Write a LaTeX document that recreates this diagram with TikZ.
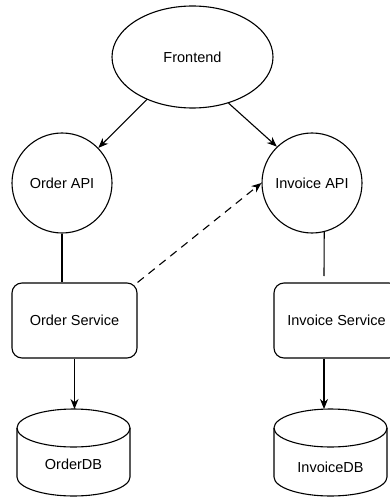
\documentclass[tikz,border=0pt]{standalone}
\usepackage{fontspec}
\setmainfont{Liberation Sans}
\usetikzlibrary{shapes.geometric,arrows.meta}
\begin{document}
\begin{tikzpicture}[x=1pt,y=-1pt,
  every node/.style={font=\fontsize{14.5}{17}\selectfont},
  shp/.style={draw, line width=1.1pt, inner sep=0pt, align=center},
  ell/.style={shp, ellipse, minimum width=161pt, minimum height=102pt},
  circ/.style={shp, circle, minimum size=100pt},
  svc/.style={shp, rectangle, rounded corners=10pt, minimum width=125pt, minimum height=75pt},
  conn/.style={line width=1.1pt},
  arr/.style={conn, -{Stealth[length=10pt,width=8pt]}},
  dep/.style={arr, dash pattern=on 8pt off 6pt},
  db/.style={line width=1.1pt}
]
\useasboundingbox (0,0) rectangle (390,497);
\clip (0,0) rectangle (390,497);

\node[ell] (fe) at (192.5,57) {Frontend};
\node[circ] (oa) at (62,183) {Order API};
\node[circ] (ia) at (312,183) {Invoice API};
\node[svc] (os) at (74.5,320.5) {Order Service};
\node[svc] (is) at (336.5,320.5) {Invoice Service};

% OrderDB cylinder
\draw[db] (17,428) -- (17,477) arc[start angle=180, end angle=360, x radius=56.5pt, y radius=19pt] -- (130,428);
\draw[db] (73.5,428) ellipse [x radius=56.5pt, y radius=19pt];
\node (odb) at (73.5,464) {OrderDB};
\coordinate (odbtop) at (73.5,409);

% InvoiceDB cylinder
\draw[db] (274,428) -- (274,477) arc[start angle=180, end angle=360, x radius=56.5pt, y radius=19pt] -- (387,428);
\draw[db] (330.5,428) ellipse [x radius=56.5pt, y radius=19pt];
\node (idb) at (330.5,467) {InvoiceDB};
\coordinate (idbtop) at (324,409);

\coordinate (iaend) at (324,276);

% connectors
\draw[arr] (fe.223) -- (oa.44);
\draw[arr] (fe.-52) -- (ia.134);
\draw[conn] (oa.south) -- (oa.south |- os.north);
\draw[conn] (ia.-76) -- (iaend);
\draw[dep] (os.north east) -- (ia.west);
\draw[arr] (os.south) -- (os.south |- odbtop);
\draw[arr] (idbtop |- is.south) -- (idbtop);
\end{tikzpicture}
\end{document}
